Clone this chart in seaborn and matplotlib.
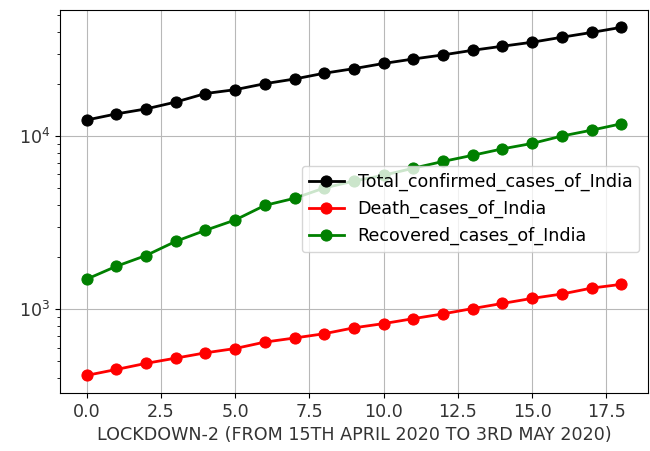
import pandas as pd
import matplotlib
matplotlib.use("Agg")
import matplotlib.pyplot as plt
import seaborn as sns

# lockdown-2 day index (15 April 2020 -> 3 May 2020)
days = list(range(19))
confirmed = [12380, 13430, 14352, 15722, 17615, 18539, 20080, 21370, 23077, 24530,
             26283, 27890, 29451, 31324, 33062, 34863, 37257, 39699, 42505]
deaths = [414, 448, 486, 521, 559, 592, 645, 681, 721, 780,
          825, 881, 939, 1008, 1079, 1154, 1223, 1323, 1391]
recovered = [1489, 1768, 2041, 2463, 2854, 3273, 3975, 4370, 5012, 5498,
             5939, 6523, 7137, 7747, 8437, 9068, 10007, 10819, 11775]

df = pd.DataFrame({'day': days,
                   'Total_confirmed_cases_of_India': confirmed,
                   'Death_cases_of_India': deaths,
                   'Recovered_cases_of_India': recovered})

fig = plt.figure(figsize=(6.5, 4.51), dpi=100)
ax = fig.add_axes([0.092, 0.129, 0.905, 0.849])

colors = {'Total_confirmed_cases_of_India': 'black',
          'Death_cases_of_India': 'red',
          'Recovered_cases_of_India': 'green'}

for col, c in colors.items():
    sns.lineplot(data=df, x='day', y=col, ax=ax, color=c, label=col,
                 marker='o', markersize=8, markeredgecolor=c, linewidth=2)

ax.set_yscale('log')
ax.grid(True, color='#b8b8b8', linewidth=0.8)
ax.set_xlabel('LOCKDOWN-2 (FROM 15TH APRIL 2020 TO 3RD MAY 2020)', fontsize=12.6, color='#333333')
ax.set_ylabel('')
ax.tick_params(labelsize=12.6, labelcolor='#333333')
ax.legend(loc='center right', bbox_to_anchor=(1.0, 0.48), fontsize=12.6)

plt.savefig('out.png', dpi=100)
